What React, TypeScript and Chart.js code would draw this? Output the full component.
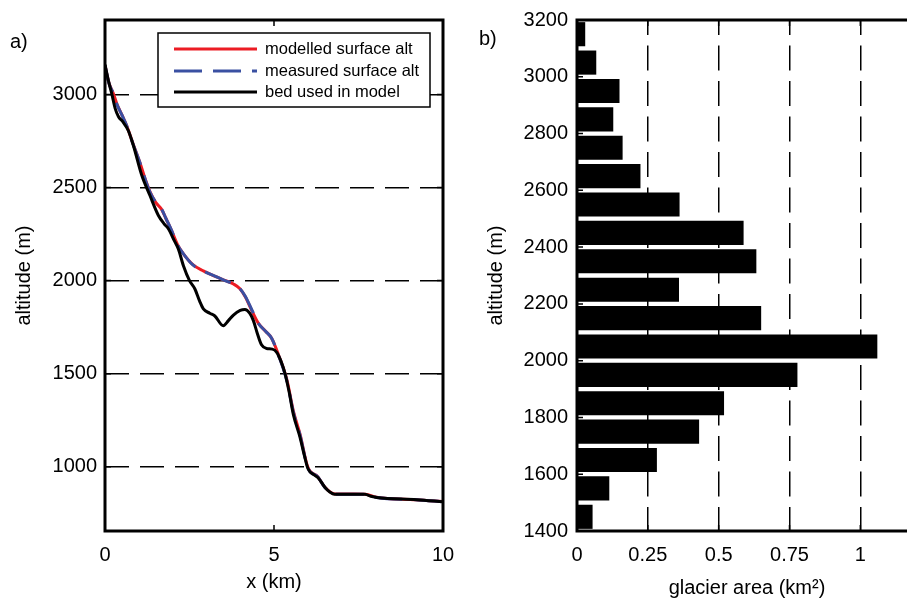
import React, { useEffect, useRef } from 'react';
import { Chart, registerables } from 'chart.js';

Chart.register(...registerables);

// ---------- panel a) data ----------
const surfaceDistanceKm = [
  0, 0.12, 0.25, 0.35, 0.5, 0.64, 0.84, 1.04, 1.2, 1.33, 1.5, 1.67, 1.8, 1.97, 2.15, 2.32,
  2.6, 2.91, 3.3, 3.55, 3.8, 4.0, 4.15, 4.34, 4.54, 4.75, 4.93, 5.13, 5.38, 5.57, 5.77,
  6.0, 6.3, 6.5, 6.8, 7.7, 8.04, 9.2, 10,
];
const modelledSurfaceAlt = [
  3156, 3060, 3004, 2950, 2890, 2833, 2730, 2630, 2540, 2478, 2420, 2384, 2335, 2268, 2192, 2144,
  2086, 2052, 2020, 2001, 1982, 1955, 1913, 1840, 1770, 1728, 1690, 1603, 1468, 1302, 1175,
  998, 946, 891, 854, 853, 836, 823, 813,
];
const measuredSurfaceAlt = [
  3156, 3058, 3004, 2948, 2890, 2833, 2728, 2630, 2538, 2476, 2422, 2386, 2335, 2270, 2190, 2144,
  2084, 2052, 2020, 2000, 1982, 1955, 1916, 1845, 1770, 1728, 1690, 1600, 1462, 1295, 1170,
  995, 945, 890, 853, 853, 835, 823, 812,
];
const bedDistanceKm = [
  0, 0.1, 0.2, 0.3, 0.4, 0.52, 0.69, 0.84, 1.08, 1.33, 1.58, 1.75, 1.87, 2.05, 2.17, 2.32,
  2.5, 2.66, 2.8, 2.91, 3.1, 3.25, 3.5, 3.65, 3.8, 4.0, 4.14, 4.28, 4.39, 4.5, 4.63, 4.78,
  4.95, 5.08, 5.2, 5.33, 5.45, 5.57, 5.77, 5.9, 6.01, 6.2, 6.31, 6.51, 6.65, 6.8, 7.5, 7.69,
  7.9, 8.04, 9.22, 10,
];
const bedAlt = [
  3160, 3075, 3004, 2925, 2880, 2855, 2806, 2726, 2570, 2457, 2350, 2305, 2280, 2215, 2170, 2080,
  2000, 1955, 1890, 1848, 1825, 1810, 1758, 1785, 1815, 1840, 1845, 1825, 1785, 1720, 1655, 1635,
  1632, 1615, 1570, 1498, 1400, 1283, 1158, 1060, 988, 955, 940, 889, 865, 853, 853, 852,
  840, 835, 823, 812,
];
const seriesLabelsA = ['modelled surface alt', 'measured surface alt', 'bed used in model'];
const altTicksA = [1000, 1500, 2000, 2500, 3000];
const distTicksA = [0, 5, 10];

// ---------- panel b) data ----------
const bandCentreAlt = [
  3150, 3050, 2950, 2850, 2750, 2650, 2550, 2450, 2350, 2250, 2150, 2050, 1950, 1850, 1750, 1650,
  1550, 1450,
];
const glacierAreaKm2 = [
  0.029, 0.068, 0.15, 0.128, 0.161, 0.224, 0.362, 0.588, 0.633, 0.36, 0.65, 1.06, 0.778, 0.519,
  0.431, 0.282, 0.114, 0.055,
];
const altTicksB = [1400, 1600, 1800, 2000, 2200, 2400, 2600, 2800, 3000, 3200];
const areaTicksB = [0, 0.25, 0.5, 0.75, 1];

const FONT = "'Liberation Sans', Arial, Helvetica, sans-serif";
const RED = '#ec1c24';
const BLUE = '#3a50a2';

const framePlugin = {
  id: 'frame',
  afterDatasetsDraw(chart: any) {
    const { ctx, chartArea } = chart;
    const { left, right, top, bottom } = chartArea;
    const xs = chart.scales.x;
    const ys = chart.scales.y;
    ctx.save();
    ctx.setLineDash([]);
    ctx.strokeStyle = '#000';
    ctx.lineWidth = 1.5;
    const tl = 6;
    ctx.beginPath();
    xs.ticks.forEach((t: any) => {
      const p = xs.getPixelForValue(t.value);
      ctx.moveTo(p, top);
      ctx.lineTo(p, top + tl);
      ctx.moveTo(p, bottom);
      ctx.lineTo(p, bottom - tl);
    });
    ys.ticks.forEach((t: any) => {
      const p = ys.getPixelForValue(t.value);
      ctx.moveTo(left, p);
      ctx.lineTo(left + tl, p);
      ctx.moveTo(right, p);
      ctx.lineTo(right - tl, p);
    });
    ctx.stroke();
    ctx.lineWidth = 3;
    ctx.strokeRect(left, top, right - left, bottom - top);
    ctx.restore();
  },
};

const legendPlugin = {
  id: 'boxLegend',
  afterDraw(chart: any) {
    const { ctx, chartArea } = chart;
    const bx = chartArea.left + 53;
    const by = chartArea.top + 13;
    const bw = 272;
    const bh = 74;
    ctx.save();
    ctx.fillStyle = '#fff';
    ctx.fillRect(bx, by, bw, bh);
    ctx.setLineDash([]);
    ctx.lineWidth = 1.5;
    ctx.strokeStyle = '#000';
    ctx.strokeRect(bx, by, bw, bh);
    const rows = [16, 38, 59];
    seriesLabelsA.forEach((label, i) => {
      const ds = chart.data.datasets.find((d: any) => d.label === label);
      const y = by + rows[i];
      ctx.beginPath();
      ctx.strokeStyle = ds.borderColor;
      ctx.lineWidth = ds.borderWidth;
      ctx.setLineDash(ds.borderDash || []);
      ctx.moveTo(bx + 16, y);
      ctx.lineTo(bx + 99, y);
      ctx.stroke();
      ctx.setLineDash([]);
      ctx.fillStyle = '#000';
      ctx.font = `16.5px ${FONT}`;
      ctx.textBaseline = 'middle';
      ctx.textAlign = 'left';
      ctx.fillText(label, bx + 107, y);
    });
    ctx.restore();
  },
};

function setTicks(values: number[]) {
  return (scale: any) => {
    scale.ticks = values.map((v) => ({ value: v }));
  };
}

const plainLabel = (v: any) => String(v);

export default function App() {
  const refA = useRef<HTMLCanvasElement>(null);
  const refB = useRef<HTMLCanvasElement>(null);

  useEffect(() => {
    Chart.defaults.font.family = FONT;
    Chart.defaults.color = '#000';

    const surfM = surfaceDistanceKm.map((x, i) => ({ x, y: modelledSurfaceAlt[i] }));
    const surfO = surfaceDistanceKm.map((x, i) => ({ x, y: measuredSurfaceAlt[i] }));
    const bed = bedDistanceKm.map((x, i) => ({ x, y: bedAlt[i] }));

    const chartA = new Chart(refA.current!, {
      type: 'line',
      data: {
        datasets: [
          {
            label: seriesLabelsA[0],
            data: surfM,
            borderColor: RED,
            borderWidth: 3,
            pointRadius: 0,
            cubicInterpolationMode: 'monotone',
            order: 3,
          },
          {
            label: seriesLabelsA[1],
            data: surfO,
            borderColor: BLUE,
            borderWidth: 3,
            borderDash: [28, 11],
            pointRadius: 0,
            cubicInterpolationMode: 'monotone',
            order: 2,
          },
          {
            label: seriesLabelsA[2],
            data: bed,
            borderColor: '#000',
            borderWidth: 3,
            pointRadius: 0,
            cubicInterpolationMode: 'monotone',
            order: 1,
          },
        ],
      },
      options: {
        animation: false,
        responsive: false,
        layout: { padding: { top: 20, right: 17, left: 0, bottom: 0 } },
        plugins: { legend: { display: false }, tooltip: { enabled: false } },
        scales: {
          x: {
            type: 'linear',
            min: 0,
            max: 10,
            afterBuildTicks: setTicks(distTicksA),
            afterFit: (s: any) => {
              s.height = 69;
              s.paddingLeft = 0;
              s.paddingRight = 0;
            },
            grid: { display: false, drawTicks: false },
            border: { display: false },
            ticks: { font: { size: 20 }, padding: 12, maxRotation: 0, callback: plainLabel },
            title: {
              display: true,
              text: 'x (km)',
              font: { size: 20 },
              padding: { top: 6, bottom: 6 },
            },
          },
          y: {
            type: 'linear',
            min: 655,
            max: 3400,
            afterBuildTicks: setTicks(altTicksA),
            afterFit: (s: any) => {
              s.width = 105;
              s.paddingTop = 0;
              s.paddingBottom = 0;
            },
            grid: { color: '#000', lineWidth: 1.5, drawTicks: false },
            border: { display: false, dash: [24, 11], dashOffset: 0 },
            ticks: { font: { size: 20 }, padding: 8, callback: plainLabel },
            title: {
              display: true,
              text: 'altitude (m)',
              font: { size: 20 },
              padding: { top: 12, bottom: 12 },
            },
          },
        },
      },
      plugins: [framePlugin, legendPlugin],
    } as any);

    const bars = bandCentreAlt.map((y, i) => ({ y, x: glacierAreaKm2[i] }));
    const chartB = new Chart(refB.current!, {
      type: 'bar',
      data: {
        datasets: [
          {
            label: 'glacier area',
            data: bars,
            backgroundColor: '#000',
            borderWidth: 0,
            barPercentage: 0.85,
            categoryPercentage: 1,
          },
        ],
      },
      options: {
        animation: false,
        responsive: false,
        indexAxis: 'y',
        layout: { padding: { top: 20, right: 3, left: 0, bottom: 0 } },
        plugins: { legend: { display: false }, tooltip: { enabled: false } },
        scales: {
          x: {
            type: 'linear',
            min: 0,
            max: 1.2,
            afterBuildTicks: setTicks(areaTicksB),
            afterFit: (s: any) => {
              s.height = 69;
              s.paddingLeft = 0;
              s.paddingRight = 0;
            },
            grid: { color: '#000', lineWidth: 1.5, drawTicks: false },
            border: { display: false, dash: [25, 10.5], dashOffset: 10 },
            ticks: { font: { size: 20 }, padding: 12, maxRotation: 0, callback: plainLabel },
            title: {
              display: true,
              text: 'glacier area (km²)',
              font: { size: 20 },
              padding: { top: 0, bottom: 0 },
            },
          },
          y: {
            type: 'linear',
            min: 1400,
            max: 3200,
            offset: false,
            afterBuildTicks: setTicks(altTicksB),
            afterFit: (s: any) => {
              s.width = 117;
              s.paddingTop = 0;
              s.paddingBottom = 0;
            },
            grid: { display: false, drawTicks: false, offset: false },
            border: { display: false },
            ticks: { font: { size: 20 }, padding: 9, callback: plainLabel },
            title: {
              display: true,
              text: 'altitude (m)',
              font: { size: 20 },
              padding: { top: 24, bottom: 24 },
            },
          },
        },
      },
      plugins: [framePlugin],
    } as any);

    return () => {
      chartA.destroy();
      chartB.destroy();
    };
  }, []);

  const label: React.CSSProperties = {
    position: 'absolute',
    fontFamily: FONT,
    fontSize: 20,
    lineHeight: '20px',
    color: '#000',
  };

  return (
    <div
      style={{
        position: 'absolute',
        left: 0,
        top: 0,
        width: 907,
        height: 600,
        overflow: 'hidden',
        background: '#fff',
      }}
    >
      <canvas ref={refA} width={460} height={600} style={{ position: 'absolute', left: 0, top: 0 }} />
      <canvas ref={refB} width={460} height={600} style={{ position: 'absolute', left: 460, top: 0 }} />
      <div style={{ ...label, left: 10, top: 31 }}>a)</div>
      <div style={{ ...label, left: 479, top: 28 }}>b)</div>
    </div>
  );
}
